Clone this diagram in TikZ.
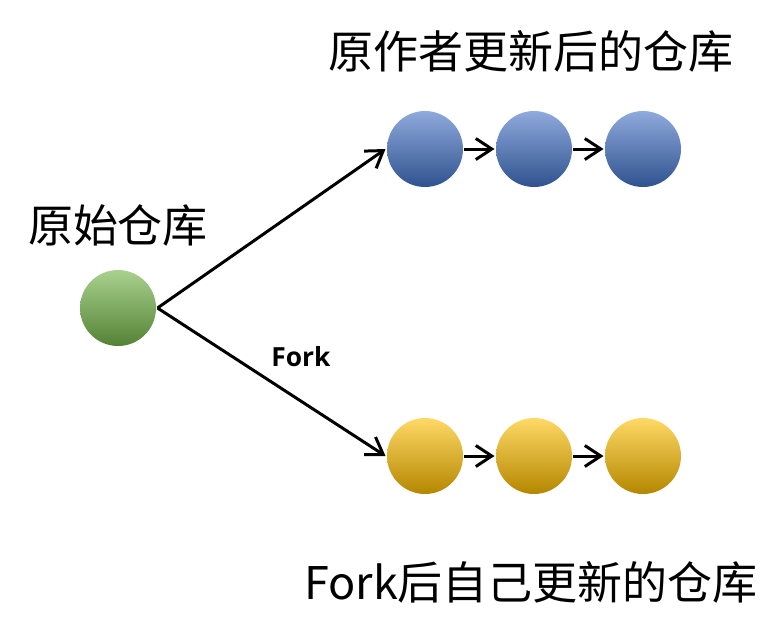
\documentclass[tikz,border=0pt]{standalone}
\usepackage{fontspec}
\setmainfont{Noto Sans CJK SC}
\newfontfamily\latinbold{Open Sans}
\usetikzlibrary{arrows.meta}

\definecolor{azulA}{RGB}{143,170,220}
\definecolor{azulB}{RGB}{68,114,196}
\definecolor{azulC}{RGB}{47,82,143}
\definecolor{verdeA}{RGB}{169,209,142}
\definecolor{verdeB}{RGB}{112,173,71}
\definecolor{verdeC}{RGB}{84,130,53}
\definecolor{amarA}{RGB}{255,217,102}
\definecolor{amarB}{RGB}{255,192,0}
\definecolor{amarC}{RGB}{180,135,0}

\tikzset{
  commit/.style={circle,minimum size=1.52cm,inner sep=0pt},
  upstream/.style={commit,top color=azulA,middle color=azulB,bottom color=azulC},
  origin/.style={commit,top color=verdeA,middle color=verdeB,bottom color=verdeC},
  mine/.style={commit,top color=amarA,middle color=amarB,bottom color=amarC},
  title/.style={font=\fontsize{25.6}{30}\selectfont}
}

\begin{document}
\begin{tikzpicture}[x=0.02cm,y=-0.02cm,line width=1.7pt,>={Straight Barb[length=3.2mm,width=4.2mm]}]
  \useasboundingbox (0,0) rectangle (784,623);
  % repositorio original
  \node[origin] (g) at (118,308) {};
  \node[title] (tg) at (118,225) {原始仓库};
  % ramas superiores (azul)
  \node[upstream] (b1) at (425,149) {};
  \node[upstream] (b2) at (534,149) {};
  \node[upstream] (b3) at (643,149) {};
  \node[title] (tb) at (531,51) {原作者更新后的仓库};
  % ramas inferiores (amarillo)
  \node[mine] (y1) at (425,456) {};
  \node[mine] (y2) at (534,456) {};
  \node[mine] (y3) at (643,456) {};
  \node[title] (ty) at (531,582) {Fork后自己更新的仓库};
  % flechas
  \draw[->] (g.east) -- (b1.west);
  \draw[->] (g.east) -- (y1.west);
  \draw[->] (b1) -- (b2);
  \draw[->] (b2) -- (b3);
  \draw[->] (y1) -- (y2);
  \draw[->] (y2) -- (y3);
  \node[font=\latinbold\bfseries\fontsize{15}{17}\selectfont] (fk) at (301,357) {Fork};
\end{tikzpicture}
\end{document}
